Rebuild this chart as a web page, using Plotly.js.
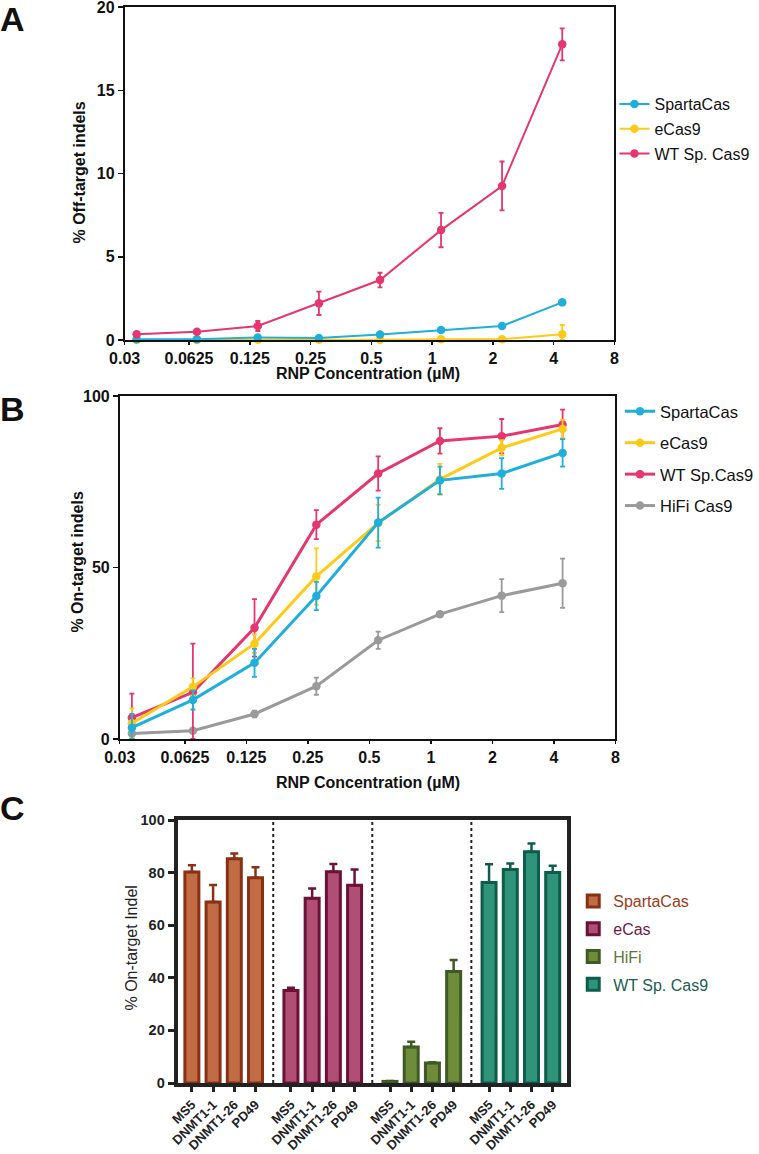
<!DOCTYPE html>
<html>
<head>
<meta charset="utf-8">
<script src="https://cdn.plot.ly/plotly-3.0.1.min.js"></script>
<style>html,body{margin:0;padding:0;background:#fff}#chart{width:759px;height:1154px}</style>
</head>
<body>
<div id="chart"></div>
<script>
// ---------- data ----------
const conc = [0.0344, 0.0684, 0.137, 0.275, 0.552, 1.107, 2.22, 4.41];
const concTicks = [0.03, 0.0625, 0.125, 0.25, 0.5, 1, 2, 4, 8];
const concTickText = ['0.03', '0.0625', '0.125', '0.25', '0.5', '1', '2', '4', '8'];
const offTicks = [0, 5, 10, 15, 20];
const onTicks = [0, 50, 100];
const barTicks = [0, 20, 40, 60, 80, 100];

// Panel A: % off-target indels
const offSparta = [0.05, 0.05, 0.15, 0.12, 0.33, 0.6, 0.84, 2.26];
const offSpartaErr = [0.03, 0.03, 0.05, 0.05, 0.05, 0.08, 0.08, 0.1];
const offECas = [0.0, 0.0, 0.02, 0.02, 0.02, 0.05, 0.05, 0.35];
const offECasErr = [0.0, 0.0, 0.02, 0.02, 0.02, 0.03, 0.03, 0.55];
const offWT = [0.34, 0.5, 0.84, 2.2, 3.6, 6.6, 9.25, 17.76];
const offWTErr = [0.1, 0.1, 0.3, 0.7, 0.44, 1.03, 1.47, 0.96];

// Panel B: % on-target indels
const onSparta = [3.3, 11.4, 22.2, 41.7, 63.1, 75.4, 77.4, 83.4];
const onSpartaErr = [4, 2.8, 4.1, 4.1, 7.3, 4, 4.5, 4];
const onECas = [4.6, 15.2, 27.8, 47.4, 63, 75.7, 84.9, 90.4];
const onECasErr = [4.3, 2.5, 2.7, 8.2, 5.3, 4.5, 2.2, 2.7];
const onWT = [6.2, 13.6, 32.4, 62.5, 77.4, 86.9, 88.3, 91.7];
const onWTErr = [7, 14.2, 8.4, 4.2, 5, 3.7, 5, 4.3];
const onHiFi = [1.6, 2.4, 7.3, 15.4, 28.8, 36.4, 41.8, 45.4];
const onHiFiErr = [0.5, 0.5, 1, 2.5, 2.5, 0.5, 4.8, 7.2];

// Panel C: % on-target indel per cell line
const cellLines = ['MS5', 'DNMT1-1', 'DNMT1-26', 'PD49'];
const barSparta = [80.2, 68.8, 85.3, 78.0];
const barSpartaErr = [2.6, 6.5, 2.0, 4.0];
const barECas = [35.2, 70.2, 80.3, 75.2];
const barECasErr = [1.0, 3.8, 3.0, 6.0];
const barHiFi = [0.6, 13.7, 7.6, 42.4];
const barHiFiErr = [0.2, 2.0, 0.3, 4.4];
const barWT = [76.2, 81.2, 87.9, 80.0];
const barWTErr = [7.0, 2.3, 3.2, 2.6];

// ---------- styles ----------
const FONT = 'Liberation Sans, Arial, Helvetica, sans-serif';
const cCyan = '#1FAFDA', cYellow = '#FDCB17', cPink = '#E5366F', cGray = '#9A9A9A';

const traces = [];
function lineTrace(y, err, name, color, xa, ya, legend, lw, rank) {
  const minus = err.map((e, i) => Math.min(e, y[i]));
  traces.push({
    type: 'scatter', mode: 'lines+markers', x: conc, y: y, name: name,
    xaxis: xa, yaxis: ya, legend: legend, legendrank: rank, legendgroup: legend + name,
    line: {color: color, width: lw},
    marker: {color: color, size: 8.5},
    error_y: {type: 'data', array: err, arrayminus: minus, symmetric: false,
              color: color, thickness: 1.8, width: 2.5},
    cliponaxis: false
  });
}
// Panel A
lineTrace(offECas, offECasErr, 'eCas9', cYellow, 'x', 'y', 'legend', 2, 2);
lineTrace(offSparta, offSpartaErr, 'SpartaCas', cCyan, 'x', 'y', 'legend', 2, 1);
lineTrace(offWT, offWTErr, 'WT Sp. Cas9', cPink, 'x', 'y', 'legend', 2, 3);
// Panel B
lineTrace(onHiFi, onHiFiErr, 'HiFi Cas9', cGray, 'x2', 'y2', 'legend2', 3, 4);
lineTrace(onWT, onWTErr, 'WT Sp.Cas9', cPink, 'x2', 'y2', 'legend2', 3, 3);
lineTrace(onECas, onECasErr, 'eCas9', cYellow, 'x2', 'y2', 'legend2', 3, 2);
lineTrace(onSparta, onSpartaErr, 'SpartaCas', cCyan, 'x2', 'y2', 'legend2', 3, 1);

// Panel C bars
const groupStep = 4.67;
const groups = [
  {name: 'SpartaCas', vals: barSparta, err: barSpartaErr, fill: '#C06C45', edge: '#8A3015', txt: '#9A3B1C'},
  {name: 'eCas', vals: barECas, err: barECasErr, fill: '#B04E74', edge: '#6A1238', txt: '#6E1A46'},
  {name: 'HiFi', vals: barHiFi, err: barHiFiErr, fill: '#6F8C3A', edge: '#3F5A25', txt: '#5D7A3C'},
  {name: 'WT Sp. Cas9', vals: barWT, err: barWTErr, fill: '#2F9479', edge: '#0E5C4A', txt: '#1B5E50'}
];
const tickPos = [], tickTxt = [];
groups.forEach((g, gi) => {
  const xs = cellLines.map((c, i) => gi * groupStep + i);
  xs.forEach((x, i) => { tickPos.push(x); tickTxt.push(cellLines[i]); });
  traces.push({
    type: 'bar', x: xs, y: g.vals, width: 0.66,
    name: '<span style="color:' + g.txt + '">' + g.name + '</span>',
    xaxis: 'x3', yaxis: 'y3', legend: 'legend3', legendrank: gi + 1, legendgroup: 'c' + gi,
    marker: {color: g.fill, line: {color: g.edge, width: 3}},
    error_y: {type: 'data', array: g.err, arrayminus: g.err.map(() => 0), symmetric: false,
              color: g.edge, thickness: 2.5, width: 4}
  });
});
const shapes = [0, 1, 2].map(gi => ({
  type: 'line', xref: 'x3', yref: 'y3', x0: gi * groupStep + 3 + (groupStep - 3) / 2,
  x1: gi * groupStep + 3 + (groupStep - 3) / 2, y0: 0, y1: 100,
  line: {color: '#222', width: 2, dash: 'dot'}
}));

// ---------- layout ----------
const W = 759, H = 1154;
const px = v => v / W, py = v => 1 - v / H;
const tickFont = {family: FONT, size: 16, color: '#111', weight: 'bold'};
function logAxis(domain, anchor) {
  return {
    domain: domain, anchor: anchor, type: 'log', range: [Math.log10(0.03), Math.log10(8)],
    tickmode: 'array', tickvals: concTicks, ticktext: concTickText,
    ticks: 'outside', ticklen: 3, tickwidth: 1.5, tickcolor: '#111', ticklabeloverflow: 'allow',
    showline: true, linecolor: '#111', linewidth: 1.8, mirror: true,
    showgrid: false, zeroline: false, tickfont: tickFont, automargin: false, fixedrange: true
  };
}
function linAxis(domain, range, tv, anchor) {
  return {
    domain: domain, range: range, tickmode: 'array', tickvals: tv, anchor: anchor,
    ticks: 'outside', ticklen: 5, tickwidth: 1.5, tickcolor: '#111', ticklabeloverflow: 'allow',
    showline: true, linecolor: '#111', linewidth: 1.8, mirror: true,
    showgrid: false, zeroline: false, tickfont: tickFont, automargin: false, fixedrange: true
  };
}
const xa = logAxis([px(127), px(626)], 'y');
const ya = linAxis([py(340), py(7)], [0, 20], offTicks, 'x');
const xb = logAxis([px(122), px(627)], 'y2');
const yb = linAxis([py(739), py(396)], [0, 100], onTicks, 'x2');
const xc = {
  domain: [px(181), px(578)], anchor: 'y3', range: [-0.67, 3 * groupStep + 3 + 0.69],
  tickmode: 'array', tickvals: tickPos, ticktext: tickTxt, tickangle: -45, ticklabeloverflow: 'allow',
  ticks: 'outside', ticklen: 5, tickwidth: 3, tickcolor: '#222',
  showline: true, linecolor: '#222', linewidth: 4, mirror: true,
  showgrid: false, zeroline: false, automargin: false, fixedrange: true,
  tickfont: {family: FONT, size: 13, color: '#222', weight: 'bold'}
};
const yc = {
  domain: [py(1083), py(820)], anchor: 'x3', range: [0, 100], tickmode: 'array', tickvals: barTicks,
  ticks: 'outside', ticklen: 6, tickwidth: 3, tickcolor: '#222', ticklabeloverflow: 'allow',
  showline: true, linecolor: '#222', linewidth: 4, mirror: true,
  showgrid: false, zeroline: false, automargin: false, fixedrange: true,
  tickfont: {family: FONT, size: 14.5, color: '#222', weight: 'bold'}
};

function ann(text, x, y, size, bold, angle, color) {
  return {text: text, xref: 'paper', yref: 'paper', x: px(x), y: py(y),
    xanchor: 'center', yanchor: 'middle', showarrow: false, textangle: angle || 0,
    font: {family: FONT, size: size, color: color || '#111', weight: bold ? 'bold' : 'normal'}};
}
const annotations = [
  ann('A', 13, 19, 34, true),
  ann('B', 13, 409, 34, true),
  ann('C', 13, 808, 34, true),
  ann('RNP Concentration (µM)', 375, 374, 16, true),
  ann('RNP Concentration (µM)', 375, 782, 16, true),
  ann('% Off-target indels', 80, 173, 16, true, -90),
  ann('% On-target indels', 78, 562, 16, true, -90),
  ann('% On-target Indel', 133, 948, 16, false, -90, '#222')
];

const legFont = {family: FONT, size: 16, color: '#111'};
const layout = {
  width: W, height: H, margin: {l: 0, r: 0, t: 0, b: 0},
  paper_bgcolor: '#fff', plot_bgcolor: '#fff', showlegend: true,
  font: {family: FONT},
  xaxis: xa, yaxis: ya, xaxis2: xb, yaxis2: yb, xaxis3: xc, yaxis3: yc,
  legend: {x: px(626), y: py(87), xanchor: 'left', yanchor: 'top', font: legFont,
           bgcolor: 'rgba(0,0,0,0)', traceorder: 'grouped', tracegroupgap: 1, itemwidth: 30},
  legend2: {x: px(632), y: py(394), xanchor: 'left', yanchor: 'top', font: {family: FONT, size: 16.5, color: '#111'},
           bgcolor: 'rgba(0,0,0,0)', traceorder: 'grouped', tracegroupgap: 7, itemwidth: 30},
  legend3: {x: px(584), y: py(884), xanchor: 'left', yanchor: 'top', font: legFont,
           bgcolor: 'rgba(0,0,0,0)', traceorder: 'grouped', tracegroupgap: 4, itemwidth: 30},
  shapes: shapes, annotations: annotations, bargap: 0
};
Plotly.newPlot('chart', traces, layout, {staticPlot: true, displayModeBar: false});
</script>
</body>
</html>
